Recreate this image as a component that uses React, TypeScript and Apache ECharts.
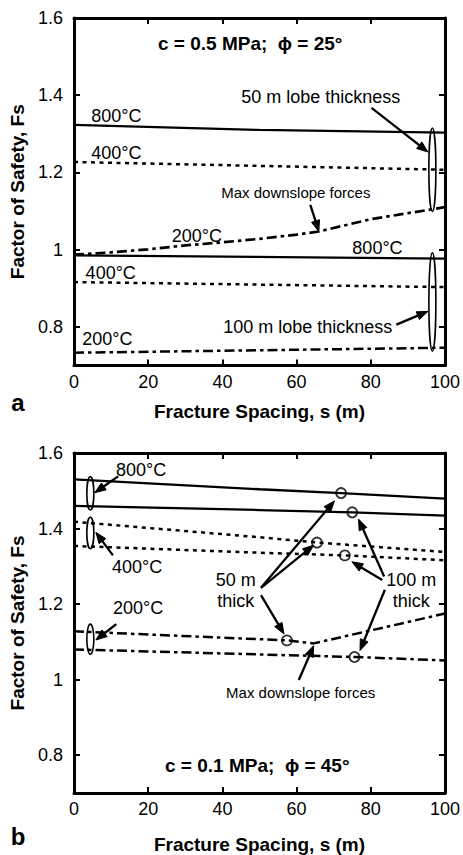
import React, { useEffect, useRef } from "react";
import * as echarts from "echarts";

const FONT = "'Liberation Sans', Arial, Helvetica, sans-serif";

// ---- axes ----
const X_MIN = 0;
const X_MAX = 100;
const X_STEP = 20;
const Y_MIN = 0.7;
const Y_MAX = 1.6;
const Y_TICKS = [0.8, 1.0, 1.2, 1.4, 1.6];

// ---- panel a : c = 0.5 MPa, phi = 25° ----
const a50_800 = [[0, 1.323], [50, 1.31], [100, 1.303]];
const a50_400 = [[0, 1.227], [50, 1.217], [100, 1.207]];
const a50_200 = [[0, 0.987], [10, 0.993], [20, 1.001], [30, 1.011], [40, 1.019], [50, 1.028], [60, 1.039], [66, 1.047], [80, 1.079], [100, 1.11]];
const a100_800 = [[0, 0.985], [100, 0.977]];
const a100_400 = [[0, 0.916], [100, 0.903]];
const a100_200 = [[0, 0.733], [100, 0.746]];

// ---- panel b : c = 0.1 MPa, phi = 45° ----
const b50_800 = [[0, 1.53], [50, 1.504], [72, 1.494], [100, 1.479]];
const b100_800 = [[0, 1.46], [50, 1.449], [75, 1.443], [100, 1.434]];
const b50_400 = [[0, 1.418], [50, 1.377], [65.5, 1.363], [100, 1.338]];
const b100_400 = [[0, 1.354], [50, 1.336], [73, 1.329], [100, 1.316]];
const b50_200 = [[0, 1.128], [57.4, 1.104], [64.6, 1.096], [100, 1.175]];
const b100_200 = [[0, 1.08], [75.6, 1.06], [100, 1.051]];
// max downslope force points (circles)
const bMaxPoints = [[72, 1.494], [75, 1.443], [65.5, 1.363], [73, 1.329], [57.4, 1.104], [75.6, 1.06]];

// ---- annotations (data coordinates) ----
const titles = ["c = 0.5 MPa;  ϕ = 25°", "c = 0.1 MPa;  ϕ = 45°"];
const titleAnchors = [[47.5, 1.535], [49.4, 0.773]];
const panelLetters = ["a", "b"];

// [text, s, v, kind]
const aTexts: [string, number, number, string][] = [
  ["50 m lobe thickness", 66.5, 1.396, "big"],
  ["800°C", 11.4, 1.345, "big"],
  ["400°C", 11.4, 1.25, "big"],
  ["Max downslope forces", 59.8, 1.149, "small"],
  ["200°C", 33.1, 1.036, "big"],
  ["800°C", 81.8, 1.004, "big"],
  ["400°C", 9.9, 0.939, "big"],
  ["100 m lobe thickness", 63.0, 0.8, "big"],
  ["200°C", 9.0, 0.769, "big"],
];
const bTexts: [string, number, number, string][] = [
  ["800°C", 18.1, 1.554, "big"],
  ["400°C", 17.0, 1.297, "big"],
  ["200°C", 17.3, 1.189, "big"],
  ["50 m\nthick", 43.6, 1.237, "big"],
  ["100 m\nthick", 90.9, 1.237, "big"],
  ["Max downslope forces", 61.1, 0.965, "small"],
];
// arrows: [s1, v1, s2, v2] (tip at s2, v2)
const aArrows = [
  [80.2, 1.367, 95.4, 1.253],
  [63.7, 1.116, 66.0, 1.047],
  [86.9, 0.806, 95.4, 0.84],
];
const bArrows = [
  [11.9, 1.538, 5.6, 1.495],
  [10.5, 1.329, 5.9, 1.39],
  [11.4, 1.147, 5.9, 1.105],
  [50.4, 1.243, 70.2, 1.473],
  [50.4, 1.243, 64.6, 1.356],
  [50.4, 1.224, 56.6, 1.121],
  [83.6, 1.273, 76.7, 1.425],
  [83.1, 1.264, 74.9, 1.312],
  [83.8, 1.238, 77.1, 1.077],
  [60.6, 0.999, 64.6, 1.09],
];
// ellipses: [s, vTop, vBottom]
const aEllipses = [
  [96.6, 1.315, 1.099],
  [96.6, 0.992, 0.737],
];
const bEllipses = [
  [4.4, 1.537, 1.449],
  [4.4, 1.43, 1.347],
  [4.4, 1.147, 1.067],
];

const GRIDS = [
  { left: 74, top: 18, width: 373, height: 347.5 },
  { left: 74, top: 453, width: 373, height: 345 },
];

const SOLID = "solid";
const DOT = [4, 4.5];
const DASHDOT = [10, 4, 3.5, 4];

function lineSeries(g: number, data: number[][], type: any, width = 2.3) {
  return {
    type: "line",
    xAxisIndex: g,
    yAxisIndex: g,
    data,
    symbol: "none",
    showSymbol: false,
    silent: true,
    lineStyle: { color: "#000", width, type },
  };
}

export default function App() {
  const ref = useRef<HTMLDivElement>(null);
  useEffect(() => {
    if (!ref.current) return;
    const chart = echarts.init(ref.current, null, { renderer: "svg" });
    const axisLine = { show: true, onZero: false, lineStyle: { color: "#000", width: 3 } };
    const xNameGaps = [36, 42];
    const xAxes: any[] = [];
    const yAxes: any[] = [];
    GRIDS.forEach((_, g) => {
      xAxes.push({
        type: "value",
        gridIndex: g,
        min: X_MIN,
        max: X_MAX,
        interval: X_STEP,
        position: "bottom",
        axisLine,
        axisTick: { show: true, inside: true, length: 6, lineStyle: { color: "#000", width: 2 } },
        axisLabel: { color: "#000", fontSize: 18, fontFamily: FONT, margin: 7 },
        splitLine: { show: false },
        name: "Fracture Spacing, s (m)",
        nameLocation: "middle",
        nameGap: xNameGaps[g],
        nameTextStyle: { color: "#000", fontSize: 19, fontWeight: "bold", fontFamily: FONT },
      });
      yAxes.push({
        type: "value",
        gridIndex: g,
        min: Y_MIN,
        max: Y_MAX,
        position: "left",
        axisLine,
        axisTick: { show: true, inside: true, length: 6, customValues: Y_TICKS, lineStyle: { color: "#000", width: 2 } },
        axisLabel: { color: "#000", fontSize: 18, fontFamily: FONT, margin: 11, customValues: Y_TICKS },
        splitLine: { show: false },
        name: "Factor of Safety, Fs",
        nameLocation: "middle",
        nameGap: 46,
        nameTextStyle: { color: "#000", fontSize: 19, fontWeight: "bold", fontFamily: FONT },
      });
    });
    GRIDS.forEach((_, g) => {
      xAxes.push({
        type: "value",
        gridIndex: g,
        min: X_MIN,
        max: X_MAX,
        interval: X_STEP,
        position: "top",
        axisLine,
        axisTick: { show: true, inside: true, length: 6, lineStyle: { color: "#000", width: 2 } },
        axisLabel: { show: false },
        splitLine: { show: false },
      });
      yAxes.push({
        type: "value",
        gridIndex: g,
        min: Y_MIN,
        max: Y_MAX,
        position: "right",
        axisLine,
        axisTick: { show: true, inside: true, length: 6, customValues: Y_TICKS, lineStyle: { color: "#000", width: 2 } },
        axisLabel: { show: false, customValues: Y_TICKS },
        splitLine: { show: false },
      });
    });

    const series: any[] = [
      lineSeries(0, a50_800, SOLID),
      lineSeries(0, a50_400, DOT, 2.5),
      lineSeries(0, a50_200, DASHDOT, 2.7),
      lineSeries(0, a100_800, SOLID),
      lineSeries(0, a100_400, DOT, 2.5),
      lineSeries(0, a100_200, DASHDOT, 2.5),
      lineSeries(1, b50_800, SOLID),
      lineSeries(1, b100_800, SOLID),
      lineSeries(1, b50_400, DOT, 2.5),
      lineSeries(1, b100_400, DOT, 2.5),
      lineSeries(1, b50_200, DASHDOT, 2.5),
      lineSeries(1, b100_200, DASHDOT, 2.5),
      {
        type: "scatter",
        xAxisIndex: 1,
        yAxisIndex: 1,
        data: bMaxPoints,
        symbol: "circle",
        symbolSize: 10,
        silent: true,
        itemStyle: { color: "rgba(0,0,0,0)", borderColor: "#000", borderWidth: 1.8 },
        z: 5,
      },
    ];

    chart.setOption({
      animation: false,
      backgroundColor: "#fff",
      grid: GRIDS.map((g) => ({ ...g, containLabel: false })),
      xAxis: xAxes,
      yAxis: yAxes,
      series,
    });

    const px = (g: number, s: number, v: number) =>
      chart.convertToPixel({ gridIndex: g } as any, [s, v]) as number[];

    const graphics: any[] = [];
    const addText = (x: number, y: number, text: string, size: number, bold: boolean) => {
      graphics.push({
        type: "text",
        x,
        y,
        silent: true,
        style: {
          text,
          fill: "#000",
          fontSize: size,
          fontFamily: FONT,
          fontWeight: bold ? "bold" : "normal",
          align: "center",
          verticalAlign: "middle",
          lineHeight: 21,
        },
      });
    };
    const addArrow = (g: number, a: number[]) => {
      const [x1, y1] = px(g, a[0], a[1]);
      const [x2, y2] = px(g, a[2], a[3]);
      const dx = x2 - x1;
      const dy = y2 - y1;
      const L = Math.hypot(dx, dy);
      const ux = dx / L;
      const uy = dy / L;
      const hl = 11;
      const hw = 4.2;
      const bx = x2 - ux * hl;
      const by = y2 - uy * hl;
      graphics.push({
        type: "line",
        silent: true,
        shape: { x1, y1, x2: bx + ux * 2, y2: by + uy * 2 },
        style: { stroke: "#000", lineWidth: 2.3 },
      });
      graphics.push({
        type: "polygon",
        silent: true,
        shape: { points: [[x2, y2], [bx - uy * hw, by + ux * hw], [bx + uy * hw, by - ux * hw]] },
        style: { fill: "#000", stroke: "#000", lineWidth: 1 },
      });
    };
    const addEllipse = (g: number, e: number[]) => {
      const [cx, yt] = px(g, e[0], e[1]);
      const [, yb] = px(g, e[0], e[2]);
      graphics.push({
        type: "ellipse",
        silent: true,
        shape: { cx, cy: (yt + yb) / 2, rx: 3.5, ry: Math.abs(yb - yt) / 2 },
        style: { fill: "none", stroke: "#000", lineWidth: 1.6 },
      });
    };

    const textsByPanel = [aTexts, bTexts];
    const arrowsByPanel = [aArrows, bArrows];
    const ellipsesByPanel = [aEllipses, bEllipses];
    [0, 1].forEach((g) => {
      ellipsesByPanel[g].forEach((e) => addEllipse(g, e));
      arrowsByPanel[g].forEach((a) => addArrow(g, a));
      textsByPanel[g].forEach(([t, s, v, kind]) => {
        const [x, y] = px(g, s, v);
        addText(x, y, t, kind === "small" ? 15 : 18, false);
      });
      const [tx, ty] = px(g, titleAnchors[g][0], titleAnchors[g][1]);
      addText(tx, ty, titles[g], 19, true);
      const [, by] = px(g, 0, Y_MIN);
      addText(18, by + (g === 0 ? 37 : 43), panelLetters[g], 24, true);
    });

    chart.setOption({ graphic: graphics });

    return () => chart.dispose();
  }, []);

  return (
    <div
      ref={ref}
      style={{ position: "absolute", left: 0, top: 0, width: 463, height: 855, background: "#fff" }}
    />
  );
}
